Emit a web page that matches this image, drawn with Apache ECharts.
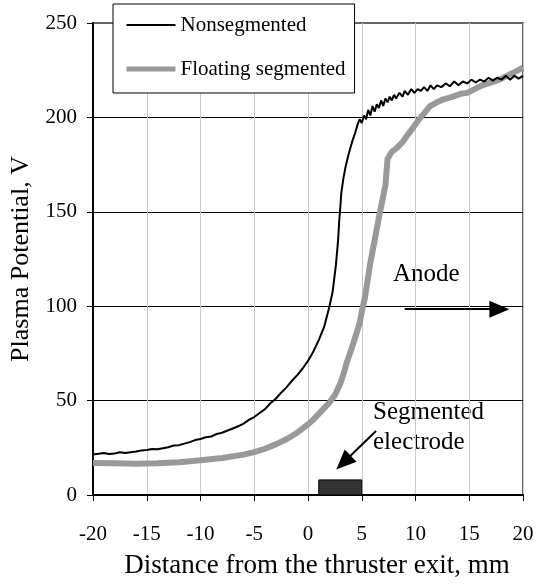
<!DOCTYPE html>
<html>
<head>
<meta charset="utf-8">
<script src="https://cdn.jsdelivr.net/npm/echarts@6/dist/echarts.min.js"></script>
<style>
html,body{margin:0;padding:0;background:#fff;}
#chart{width:540px;height:584px;}
</style>
</head>
<body>
<div id="chart"></div>
<script>
// ---- data ----
const xTicks = [-20, -15, -10, -5, 0, 5, 10, 15, 20];
const yTicks = [0, 50, 100, 150, 200, 250];
const seriesNames = ['Nonsegmented', 'Floating segmented'];

const nonsegmented = [
  [-20,21.5],[-19.5,21.8],[-19,22.2],[-18.5,21.7],[-18,22],[-17.5,22.6],[-17,22.3],[-16,23],
  [-15.5,23.6],[-15,23.8],[-14.5,24.4],[-14,24.2],[-13,25.3],[-12.5,26.2],[-12,26.4],
  [-11,28],[-10.5,29.1],[-10,29.7],[-9.5,30.6],[-9,31],[-8.5,32.3],[-8,33],[-7,35.2],
  [-6.5,36.4],[-6,37.8],[-5.5,39.8],[-5,41.3],[-4.5,43.4],[-4,45.5],
  [-3.5,48.6],[-3,51],[-2.5,54.2],[-2,57],[-1.5,60.5],[-1,63.5],[-0.5,67],[0,71],[0.5,76],[1,82],[1.5,89],[2,100],
  [2.3,108],[2.6,122],[2.8,135],[2.9,145],[3,152],[3.1,160],[3.3,168],[3.5,174],
  [3.8,181],[4.1,187],[4.4,192],[4.6,196],[4.8,199],[5,197],[5.2,201],[5.4,199],
  [5.6,204],[5.8,201],[6,206],[6.2,203],[6.4,207],[6.6,205],[6.8,209],[7,206],
  [7.2,210],[7.4,208],[7.6,211],[7.8,209],[8,212],[8.2,210],[8.5,213],[8.8,211],
  [9,214],[9.3,212],[9.6,215],[9.9,213],[10.2,215],[10.5,214],[10.8,216],[11.1,214],
  [11.4,217],[11.7,215],[12,217],[12.4,216],[12.8,218],[13.2,216.5],[13.6,219],
  [14,217],[14.4,219],[14.8,218],[15.2,220],[15.6,218.5],[16,220],[16.4,219],
  [16.8,221],[17.2,219.5],[17.6,221],[18,220],[18.4,222],[18.8,220],[19.2,222],
  [19.6,220.5],[20,222]
];

const floatingSegmented = [
  [-20,17],[-18,16.8],[-16,16.6],[-14,16.8],[-12,17.4],[-10,18.4],[-8,19.6],[-6,21.4],
  [-5,22.7],[-4,24.5],[-3,26.8],[-2,29.5],[-1,33],[0,37.4],[0.5,40],[1,43],[1.5,46],
  [2,49],[2.5,53],[3,59],[3.3,64],[3.6,70],[3.9,75],[4.2,80],[4.5,85.4],[4.8,91],
  [5,97],[5.3,104.6],[5.77,122],[6.2,135],[6.7,150],[7.2,164],[7.4,178],[7.6,180],
  [7.8,181.7],[8.3,184],[8.8,187],[9.3,191],[9.8,194.7],[10.2,198],[10.6,200.8],
  [11,203.5],[11.35,206],[12,208],[12.6,209.6],[13.5,211],[14.2,212.5],[14.8,213],
  [15.5,215],[16.2,217],[17,218.4],[17.8,220],[18.5,222],[19.2,224],[20,226.3]
];

// electrode block: x range (mm) and height (V)
const electrode = [[1, 0], [5, 8]];
// annotation arrows: [start, end] in data coordinates
const anodeArrow = [[9, 98.4], [17.8, 98.4]];
const electrodeArrow = [[6.33, 33.9], [3.3, 17.2]];

const FONT = 'Liberation Serif';
const chart = echarts.init(document.getElementById('chart'), null, {renderer: 'canvas'});

const option = {
  animation: false,
  backgroundColor: '#fff',
  grid: {
    left: 93, right: 17, top: 23, bottom: 85,
    show: true, borderColor: '#666', borderWidth: 2, backgroundColor: 'transparent'
  },
  legend: {
    data: [
      {name: seriesNames[0], itemStyle: {opacity: 0}, lineStyle: {width: 2, color: '#000'}},
      {name: seriesNames[1], itemStyle: {opacity: 0}, lineStyle: {width: 5, color: '#999'}}
    ],
    orient: 'vertical',
    left: 113, top: 4,
    padding: [10, 9, 13, 11],
    itemGap: 22,
    itemWidth: 49,
    itemHeight: 14,
    backgroundColor: '#fff',
    borderColor: '#000',
    borderWidth: 1,
    borderRadius: 0,
    textStyle: {fontFamily: FONT, fontSize: 21, color: '#000', lineHeight: 22},
    selectedMode: false
  },
  xAxis: {
    type: 'value',
    min: xTicks[0], max: xTicks[xTicks.length - 1], interval: 5,
    name: 'Distance from the thruster exit, mm',
    nameLocation: 'middle', nameGap: 57,
    nameTextStyle: {fontFamily: FONT, fontSize: 27, color: '#000', padding: [0, 0, 0, 18]},
    axisLine: {show: true, onZero: false, lineStyle: {color: '#000', width: 2}},
    axisTick: {show: true, length: 6, lineStyle: {color: '#000', width: 1}},
    axisLabel: {fontFamily: FONT, fontSize: 21, color: '#000', margin: 29},
    splitLine: {show: true, lineStyle: {color: '#c8c8c8', width: 1}}
  },
  yAxis: {
    type: 'value',
    min: yTicks[0], max: yTicks[yTicks.length - 1], interval: 50,
    name: 'Plasma Potential, V',
    nameLocation: 'middle', nameGap: 51,
    nameTextStyle: {fontFamily: FONT, fontSize: 26, color: '#000'},
    axisLine: {show: true, onZero: false, lineStyle: {color: '#000', width: 2}},
    axisTick: {show: true, length: 6, lineStyle: {color: '#000', width: 1}},
    axisLabel: {fontFamily: FONT, fontSize: 21, color: '#000', margin: 16},
    splitLine: {show: true, showMinLine: false, showMaxLine: false, lineStyle: {color: '#000', width: 1}}
  },
  series: [
    {
      name: seriesNames[1],
      type: 'line',
      data: floatingSegmented,
      symbol: 'none',
      lineStyle: {color: '#999', width: 6},
      itemStyle: {color: '#999'},
      z: 3,
      markArea: {
        silent: true,
        itemStyle: {color: '#333', opacity: 1, borderColor: '#000', borderWidth: 1},
        data: [[{coord: electrode[0]}, {coord: electrode[1]}]]
      }
    },
    {
      name: seriesNames[0],
      type: 'line',
      data: nonsegmented,
      symbol: 'none',
      lineStyle: {color: '#000', width: 2},
      itemStyle: {color: '#000'},
      z: 4,
      markLine: {
        silent: true,
        symbol: ['none', 'triangle'],
        symbolSize: [17, 20],
        label: {show: false},
        lineStyle: {color: '#000', width: 2, type: 'solid'},
        emphasis: {disabled: true},
        data: [
          [{coord: anodeArrow[0]}, {coord: anodeArrow[1]}],
          [{coord: electrodeArrow[0]}, {coord: electrodeArrow[1]}]
        ]
      }
    }
  ],
  graphic: [
    {type: 'text', left: 393, top: 262, style: {text: 'Anode', font: '25px "Liberation Serif"', fill: '#000'}},
    {type: 'text', left: 373, top: 400, style: {text: 'Segmented', font: '25px "Liberation Serif"', fill: '#000'}},
    {type: 'text', left: 373, top: 430, style: {text: 'electrode', font: '25px "Liberation Serif"', fill: '#000'}}
  ]
};
chart.setOption(option);
</script>
</body>
</html>
